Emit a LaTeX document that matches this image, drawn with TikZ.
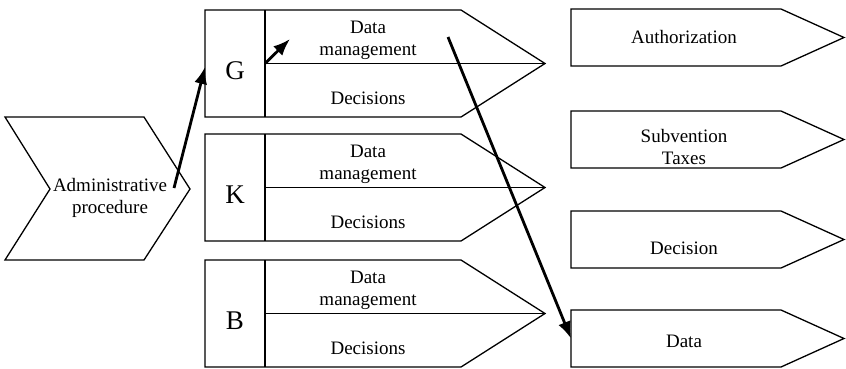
\documentclass[tikz,border=0pt]{standalone}
\usepackage{fontspec}
\setmainfont{Liberation Serif}
\usetikzlibrary{arrows.meta, positioning}

\begin{document}
\begin{tikzpicture}[x=1pt, y=-1pt, line width=1.3pt, line join=miter,
  lbl/.style={font=\fontsize{19}{22}\selectfont, align=center, inner sep=0pt},
  letter/.style={font=\fontsize{27}{30}\selectfont, inner sep=0pt},
  conn/.style={-{Latex[length=17pt, width=13pt]}, line width=2.8pt}]


% GLOBAL SETTINGS
\newcommand{\blkL}{205}
\newcommand{\blkD}{265}
\newcommand{\blkR}{461}
\newcommand{\blkT}{545}
\newcommand{\blkH}{107}
\newcommand{\outL}{571}
\newcommand{\outR}{781}
\newcommand{\outT}{844}
\newcommand{\outH}{57}

\useasboundingbox (0,0) rectangle (846,368);

% ADMINISTRATIVE PROCEDURE
\draw (5,117) -- (144,117) -- (190,189) -- (144,260) -- (5,260) -- (50,189) -- cycle;
\node[lbl] (Adm) at (110,197.5) {Administrative\\procedure};
\coordinate (admout) at (174,188);

% G K B
\foreach \ltr/\ytop in {G/10,K/134,B/260} {
\draw (\blkL,\ytop) -- (\blkR,\ytop) -- (\blkT,\ytop+53.5) -- (\blkR,\ytop+\blkH)
  -- (\blkL,\ytop+\blkH) -- cycle;
\draw (\blkD,\ytop) -- (\blkD,\ytop+\blkH);
\draw (\blkD,\ytop+53.5) coordinate (\ltr-mid) -- (\blkT,\ytop+53.5);
\coordinate (\ltr-w) at (\blkL,\ytop+57);
\node[letter] (\ltr) at (235,\ytop+61) {\ltr};
\node[lbl] (\ltr-dm) at (368,\ytop+30) {Data\\management};
\node[lbl] (\ltr-dec) at (368,\ytop+88) {Decisions};
}
\coordinate (gdmin) at (290,39);
\coordinate (gdout) at (448,37);

% RESULTS
\foreach \nm/\ytop/\ytxt/\txt in {auth/9/37/Authorization, subv/111/147/{Subvention\\Taxes},
  dcs/211/248/Decision, data/310/341/Data} {
\draw (\outL,\ytop) -- (\outR,\ytop) -- (\outT,\ytop+28.5) -- (\outR,\ytop+\outH)
  -- (\outL,\ytop+\outH) -- cycle;
\coordinate (\nm-w) at (\outL,\ytop+28.5);
\node[lbl] (\nm) at (684,\ytxt) {\txt};
}

% EDGES
\draw[conn] (admout) -- (G-w);
\draw[conn] (G-mid) -- (gdmin);
\draw[conn] (gdout) -- (data-w);

\end{tikzpicture}
\end{document}
